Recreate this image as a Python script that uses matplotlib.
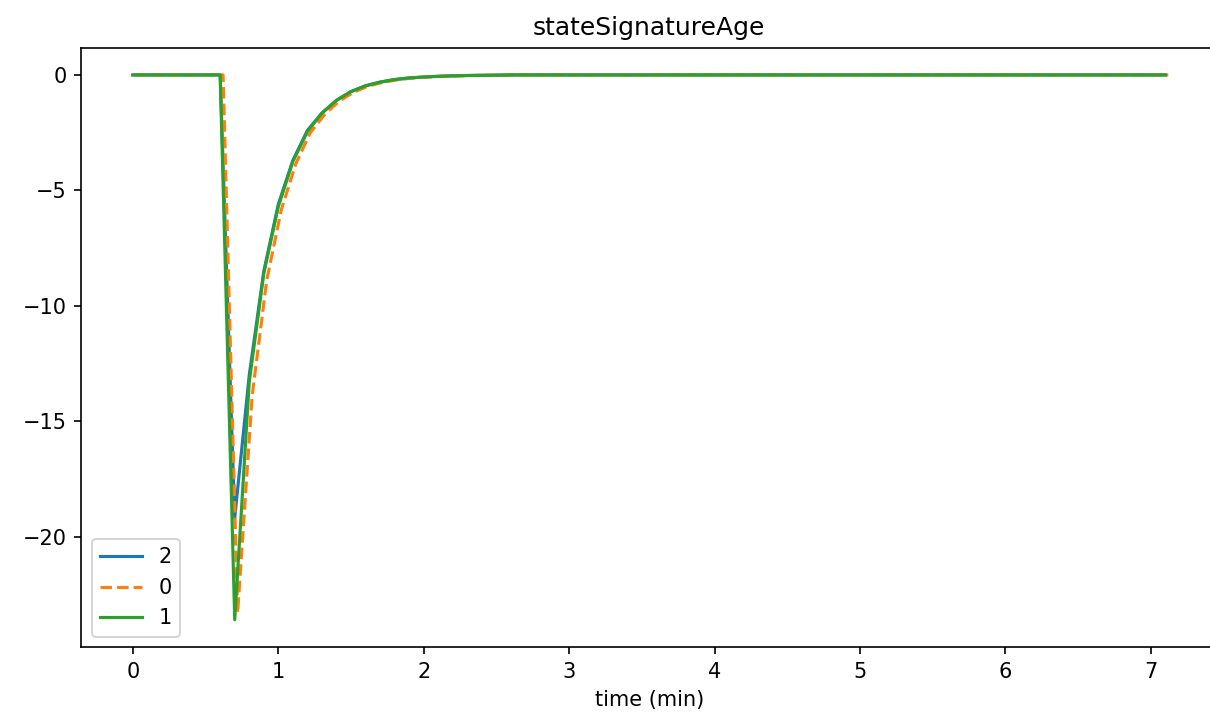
import matplotlib
matplotlib.use("Agg")
import matplotlib.pyplot as plt
import numpy as np

# time axis (min), sampled every 0.1 min
time = np.round(np.arange(0, 7.11, 0.1), 2)

# values up to 2.5 min, afterwards the signal sits at 0
head_2 = [0, 0, 0, 0, 0, 0, 0, -19.2, -13.0, -8.5, -5.6, -3.7, -2.4, -1.65, -1.1,
          -0.72, -0.47, -0.31, -0.2, -0.13, -0.09, -0.06, -0.04, -0.025, -0.016, -0.01]
head_0 = [0, 0, 0, 0, 0, 0, 0, -23.3, -13.9, -8.9, -5.85, -3.85, -2.5, -1.7, -1.13,
          -0.74, -0.48, -0.32, -0.21, -0.135, -0.09, -0.06, -0.04, -0.025, -0.016, -0.01]
head_1 = [0, 0, 0, 0, 0, 0, 0, -23.6, -13.3, -8.6, -5.7, -3.75, -2.45, -1.65, -1.1,
          -0.72, -0.47, -0.31, -0.2, -0.13, -0.09, -0.06, -0.04, -0.025, -0.016, -0.01]

tail = [0.0] * (len(time) - len(head_2))
series = {
    "2": np.array(head_2 + tail),
    "0": np.array(head_0 + tail),
    "1": np.array(head_1 + tail),
}
# run 0 was logged a little later than the others
offset_0 = 0.02

fig = plt.figure(figsize=(1210 / 150, 716 / 150), dpi=150)
ax = fig.add_axes([81.3 / 1210, 1 - 647 / 716, (1217 - 81.3) / 1210, (647 - 47.7) / 716])

ax.plot(time, series["2"], color="tab:blue", lw=1.5, label="2")
ax.plot(time + offset_0, series["0"], color="tab:orange", lw=1.5, ls="--", label="0")
ax.plot(time, series["1"], color="tab:green", lw=1.5, label="1")

ax.set_xlim(-0.355, 7.455)
ax.set_title("stateSignatureAge", fontsize=12)
ax.set_xlabel("time (min)", fontsize=10)
ax.tick_params(labelsize=10)
ax.legend(loc="lower left", fontsize=10)

fig.savefig("out.png", dpi=150)
